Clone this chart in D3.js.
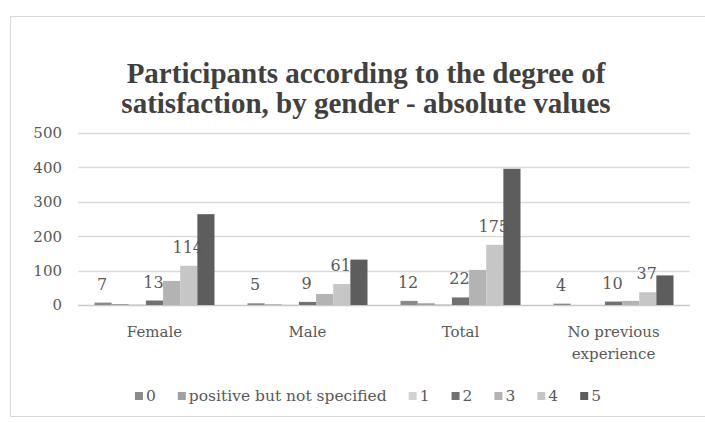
<!DOCTYPE html>
<html>
<head>
    <title>satisfaction by gender</title>
    <style>
        body {
            background: #ffffff;
            margin: 0;
            padding: 0;
        }
        svg text {
            font-family: "DejaVu Serif", "Liberation Serif", serif;
        }
    </style>
</head>
<body>
    <svg id="chart" width="705" height="423"></svg>

    <script src="https://d3js.org/d3.v7.min.js"></script>
    <script>
        // chart data
        const categories = ['Female', 'Male', 'Total', 'No previous experience'];
        const series = ['0', 'positive but not specified', '1', '2', '3', '4', '5'];
        const seriesColors = ['#8a8a8a', '#a0a0a0', '#d2d2d2', '#717171', '#b3b3b3', '#c6c6c6', '#5d5d5d'];
        const values0 = [7, 5, 12, 4];
        const valuesPositive = [3, 2, 5, 0];
        const values1 = [2, 1, 3, 0];
        const values2 = [13, 9, 22, 10];
        const values3 = [70, 32, 102, 12];
        const values4 = [114, 61, 175, 37];
        const values5 = [264, 132, 396, 86];
        const yTicks = [0, 100, 200, 300, 400, 500];
        const labelledSeries = ['0', '2', '4'];   // only these carry data labels

        const allValues = [values0, valuesPositive, values1, values2, values3, values4, values5];

        const svg = d3.select('#chart');

        // outer chart frame
        svg.append('rect')
            .attr('x', 10.5).attr('y', 16.5)
            .attr('width', 700).attr('height', 400)
            .attr('fill', 'none')
            .attr('stroke', '#d9d9d9');

        // title
        const title = svg.append('text')
            .attr('text-anchor', 'middle')
            .attr('fill', '#404040')
            .style('font-family', '"Liberation Serif", serif')
            .style('font-weight', 'bold')
            .style('font-size', '29px');
        title.append('tspan').attr('x', 366).attr('y', 83).text('Participants according to the degree of');
        title.append('tspan').attr('x', 366).attr('y', 113).text('satisfaction, by gender - absolute values');

        const plotLeft = 78, plotRight = 690;
        const y = d3.scaleLinear().domain([0, 500]).range([305, 133]);
        const x0 = d3.scaleBand().domain(categories).range([plotLeft, plotRight]);
        const x1 = d3.scaleBand().domain(series).range([16.5, x0.bandwidth() - 16.5]);

        // gridlines
        svg.append('g')
            .selectAll('line')
            .data(yTicks)
            .join('line')
            .attr('x1', plotLeft).attr('x2', plotRight)
            .attr('y1', d => Math.round(y(d)) + 0.5)
            .attr('y2', d => Math.round(y(d)) + 0.5)
            .attr('stroke', d => d === 0 ? '#c8c8c8' : '#dadada')
            .attr('stroke-width', 1.5);

        // y axis labels
        const yAxis = d3.axisLeft(y).tickValues(yTicks).tickSize(0).tickPadding(0);
        const yg = svg.append('g')
            .attr('transform', 'translate(62,0)')
            .call(yAxis);
        yg.select('.domain').remove();
        yg.selectAll('text')
            .attr('fill', '#595959')
            .style('font-size', '15px');

        // bars
        const groups = svg.append('g')
            .selectAll('g')
            .data(categories)
            .join('g')
            .attr('transform', d => `translate(${x0(d)},0)`);

        groups.selectAll('rect')
            .data((c, ci) => series.map((s, si) => ({ s, si, v: allValues[si][ci] })))
            .join('rect')
            .attr('x', d => x1(d.s))
            .attr('width', x1.bandwidth())
            .attr('y', d => y(d.v))
            .attr('height', d => y(0) - y(d.v))
            .attr('fill', d => seriesColors[d.si]);

        // data labels
        groups.selectAll('text')
            .data((c, ci) => series.map((s, si) => ({ s, si, v: allValues[si][ci] }))
                .filter(d => labelledSeries.includes(d.s)))
            .join('text')
            .attr('x', d => x1(d.s) + x1.bandwidth() / 2 - 1)
            .attr('y', d => y(d.v) - 13)
            .attr('text-anchor', 'middle')
            .attr('fill', '#595959')
            .style('font-size', '16px')
            .text(d => d.v);

        // category labels
        const xg = svg.append('g');
        categories.forEach(c => {
            const t = xg.append('text')
                .attr('text-anchor', 'middle')
                .attr('fill', '#595959')
                .style('font-size', '15px');
            const lines = c === 'No previous experience' ? ['No previous', 'experience'] : [c];
            lines.forEach((ln, i) => {
                t.append('tspan')
                    .attr('x', x0(c) + x0.bandwidth() / 2)
                    .attr('y', 337 + i * 22)
                    .text(ln);
            });
        });

        // legend
        const legend = svg.append('g');
        let lx = 0;
        series.forEach((s, i) => {
            const item = legend.append('g').attr('transform', `translate(${lx},0)`);
            item.append('rect')
                .attr('x', 0).attr('y', 392)
                .attr('width', 8).attr('height', 8)
                .attr('fill', seriesColors[i]);
            const t = item.append('text')
                .attr('x', 11).attr('y', 401)
                .attr('fill', '#595959')
                .style('font-size', '15.5px')
                .text(s);
            lx += 11 + t.node().getComputedTextLength() + 22;
        });
        const legendWidth = lx - 22;
        legend.attr('transform', `translate(${368 - legendWidth / 2},0)`);
    </script>
</body>
</html>
